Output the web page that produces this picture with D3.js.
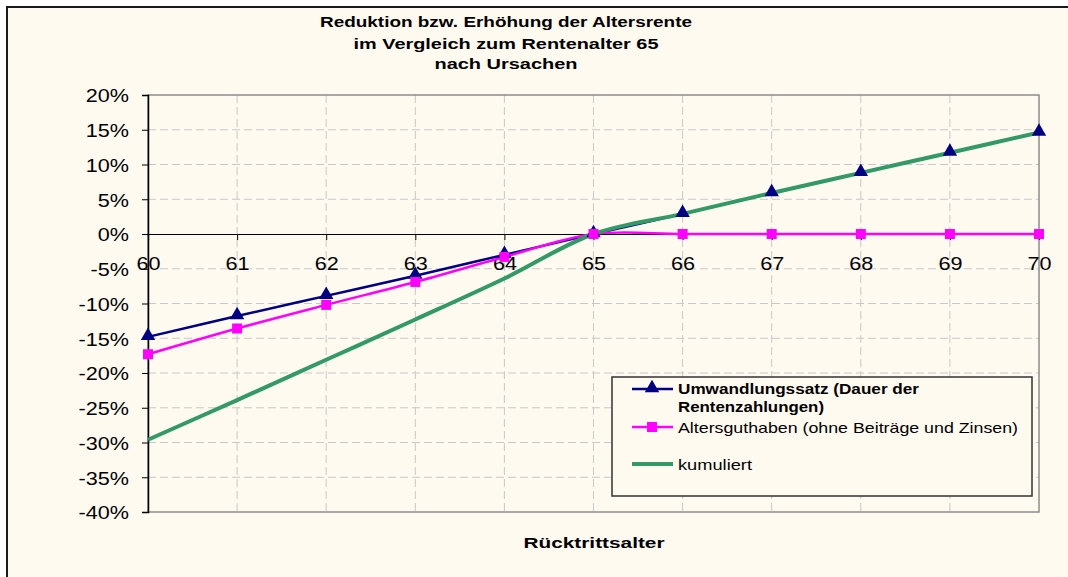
<!DOCTYPE html>
<html>
<head>
<meta charset="utf-8">
<script src="https://cdn.jsdelivr.net/npm/d3@7"></script>
<style>
  html, body { margin: 0; padding: 0; background: #ffffff; }
  svg { display: block; font-family: "Liberation Sans", Arial, sans-serif; }
</style>
</head>
<body>
<svg id="chart" width="1068" height="577"></svg>
<script>
// ---- data ----
const ages = [60, 61, 62, 63, 64, 65, 66, 67, 68, 69, 70];
const umwandlungssatz = [-0.148, -0.118, -0.089, -0.060, -0.030, 0, 0.029, 0.059, 0.088, 0.117, 0.146];
const altersguthaben = [-0.173, -0.136, -0.102, -0.069, -0.033, 0, 0, 0, 0, 0, 0];
const kumuliert = [-0.296, -0.239, -0.181, -0.123, -0.064, 0, 0.029, 0.059, 0.088, 0.117, 0.146];
const yTicks = [-0.40, -0.35, -0.30, -0.25, -0.20, -0.15, -0.10, -0.05, 0, 0.05, 0.10, 0.15, 0.20];
const titleLines = ["Reduktion bzw. Erhöhung der Altersrente", "im Vergleich zum Rentenalter 65", "nach Ursachen"];
const xAxisTitle = "Rücktrittsalter";
const legendLabels = [["Umwandlungssatz (Dauer der", "Rentenzahlungen)"], ["Altersguthaben (ohne Beiträge und Zinsen)"], ["kumuliert"]];

// ---- layout ----
const svg = d3.select("#chart");
const bg = "#FFFAF0";
svg.append("rect").attr("x", 7).attr("y", 7).attr("width", 1080).attr("height", 600)
  .attr("fill", bg).attr("stroke", "#1a1a1a").attr("stroke-width", 2);

const x = d3.scaleLinear().domain([60, 70]).range([148, 1039]);
const y = d3.scaleLinear().domain([-0.4, 0.2]).range([512, 95]);

// grid
const grid = svg.append("g");
grid.selectAll("line.h").data(yTicks.filter(v => v > -0.4 && v < 0.2 && v !== 0)).join("line")
  .attr("x1", x(60)).attr("x2", x(70)).attr("y1", d => y(d)).attr("y2", d => y(d))
  .attr("stroke", "#c8c8c8").attr("stroke-width", 1).attr("stroke-dasharray", "8,4");
grid.selectAll("line.v").data(ages.filter(a => a > 60 && a < 70)).join("line")
  .attr("x1", d => x(d)).attr("x2", d => x(d)).attr("y1", y(0.2)).attr("y2", y(-0.4))
  .attr("stroke", "#c8c8c8").attr("stroke-width", 1).attr("stroke-dasharray", "8,4");

// plot border
svg.append("rect").attr("x", x(60)).attr("y", y(0.2)).attr("width", x(70) - x(60)).attr("height", y(-0.4) - y(0.2))
  .attr("fill", "none").attr("stroke", "#8c8c8c").attr("stroke-width", 1.5);

const pct = d => d3.format(".0%")(d).replace("\u2212", "-");

// y axis
const yAxis = d3.axisLeft(y).tickValues(yTicks).tickFormat(pct).tickSize(6).tickPadding(14);
const yg = svg.append("g").attr("transform", `translate(${x(60)},0)`).call(yAxis);
yg.select(".domain").attr("stroke", "#000").attr("stroke-width", 1.5);
yg.selectAll(".tick line").attr("stroke", "#000");
yg.selectAll(".tick text").attr("font-size", 18).attr("fill", "#000")
  .attr("font-family", "Liberation Sans, Arial, sans-serif")
  .attr("transform", "scale(1.2,1)").attr("x", -19 / 1.2).attr("dy", "0.38em");

// x axis at 0
const xAxis = d3.axisBottom(x).tickValues(ages).tickFormat(d3.format("d")).tickSize(6).tickPadding(0);
const xg = svg.append("g").attr("transform", `translate(0,${y(0)})`).call(xAxis);
xg.select(".domain").attr("stroke", "#000").attr("stroke-width", 1.2);
xg.selectAll(".tick line").attr("stroke", "#000");
xg.selectAll(".tick text").attr("font-size", 18).attr("fill", "#000")
  .attr("font-family", "Liberation Sans, Arial, sans-serif")
  .attr("transform", "scale(1.2,1)").attr("y", 36).attr("dy", 0);

// lines (navy, magenta, then green on top; markers last)
const curve = d3.curveCatmullRom.alpha(0.5);
const line = d3.line().x((d, i) => x(ages[i])).y(d => y(d)).curve(curve);
svg.append("path").datum(umwandlungssatz).attr("d", line).attr("fill", "none").attr("stroke", "#000080").attr("stroke-width", 2.5);
svg.append("path").datum(altersguthaben).attr("d", line).attr("fill", "none").attr("stroke", "#FF00FF").attr("stroke-width", 2.5);
svg.append("path").datum(kumuliert).attr("d", line).attr("fill", "none").attr("stroke", "#339966").attr("stroke-width", 4);

const tri = d3.symbol().type(d3.symbolTriangle).size(90);
const sq = d3.symbol().type(d3.symbolSquare).size(100);
svg.selectAll("path.tri").data(umwandlungssatz).join("path").attr("class", "tri")
  .attr("d", tri).attr("transform", (d, i) => `translate(${x(ages[i])},${y(d) - 1})`).attr("fill", "#000080");
svg.selectAll("path.sq").data(altersguthaben).join("path").attr("class", "sq")
  .attr("d", sq).attr("transform", (d, i) => `translate(${x(ages[i])},${y(d)})`).attr("fill", "#FF00FF");

// title
const titleWidths = [372, 305, 143];
const titleBase = [27, 48.5, 69];
svg.append("g").selectAll("text").data(titleLines).join("text")
  .attr("x", 506).attr("y", (d, i) => titleBase[i]).attr("text-anchor", "middle")
  .attr("font-size", 15).attr("font-weight", "bold").attr("fill", "#000")
  .attr("textLength", (d, i) => titleWidths[i]).attr("lengthAdjust", "spacingAndGlyphs")
  .text(d => d);

// x axis title
svg.append("text").attr("x", 594).attr("y", 548).attr("text-anchor", "middle")
  .attr("font-size", 15).attr("font-weight", "bold").attr("fill", "#000")
  .attr("textLength", 141).attr("lengthAdjust", "spacingAndGlyphs").text(xAxisTitle);

// legend
const lg = svg.append("g");
lg.append("rect").attr("x", 612).attr("y", 377).attr("width", 420).attr("height", 119)
  .attr("fill", bg).attr("stroke", "#333").attr("stroke-width", 1.5);
const legY = [389, 427, 464];
const legColors = ["#000080", "#FF00FF", "#339966"];
const legWidths = [[241, 146], [340], [74]];
const legBase = [[393.5, 412], [433], [469.5]];
legendLabels.forEach((lines, k) => {
  lg.append("line").attr("x1", 632).attr("x2", 673).attr("y1", legY[k]).attr("y2", legY[k])
    .attr("stroke", legColors[k]).attr("stroke-width", k === 2 ? 4 : 2.5);
  if (k === 0) lg.append("path").attr("d", tri).attr("transform", `translate(652,${legY[k] - 1})`).attr("fill", legColors[k]);
  if (k === 1) lg.append("path").attr("d", sq).attr("transform", `translate(652,${legY[k]})`).attr("fill", legColors[k]);
  lines.forEach((t, j) => {
    lg.append("text").attr("x", 678).attr("y", legBase[k][j])
      .attr("font-size", 15).attr("font-weight", k === 0 ? "bold" : "normal").attr("fill", "#000")
      .attr("textLength", legWidths[k][j]).attr("lengthAdjust", "spacingAndGlyphs").text(t);
  });
});
</script>
</body>
</html>
